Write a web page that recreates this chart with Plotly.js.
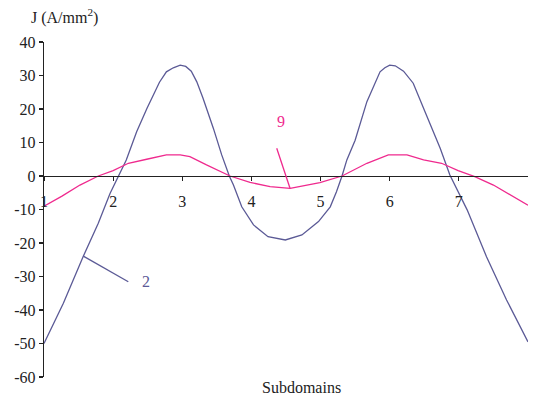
<!DOCTYPE html>
<html>
<head>
<meta charset="utf-8">
<script src="https://cdn.plot.ly/plotly-3.0.1.min.js"></script>
<style>
  html, body { margin: 0; padding: 0; background: #fff; }
  #chart { width: 533px; height: 399px; }
</style>
</head>
<body>
<div id="chart"></div>
<script>
// Current density J along the subdomains, curve 2
const x2 = [1, 1.28, 1.57, 1.785, 1.955, 2.08, 2.19, 2.34, 2.49, 2.67, 2.77, 2.87, 2.97, 3.05, 3.13, 3.21, 3.30, 3.45, 3.57, 3.68,
            3.74, 3.86, 4.03, 4.24, 4.49, 4.73, 4.97, 5.14, 5.23, 5.31, 5.38, 5.50, 5.67, 5.86, 5.93, 6.0, 6.08, 6.20, 6.34, 6.53,
            6.73, 6.87, 7.12, 7.40, 7.69, 8.0];
const j2 = [-50, -38, -23.9, -14.1, -5.2, 0, 4.8, 13.2, 20.2, 28.0, 31.1, 32.3, 33.1, 32.7, 31.3, 28.1, 23.2, 14.2, 6.3, 0,
            -2.7, -9.2, -14.6, -18.1, -19.1, -17.6, -13.6, -9.2, -4.7, 0, 4.8, 10.7, 22.2, 31.1, 32.3, 33.1, 32.9, 31.3, 27.7, 18.2,
            8.3, 0.3, -10.1, -24.1, -37, -49.5];

// Curve 9
const x9 = [1, 1.26, 1.52, 1.785, 2.0, 2.22, 2.485, 2.77, 2.97, 3.11, 3.35, 3.69, 3.98, 4.27, 4.56, 4.99, 5.31, 5.67, 5.98, 6.25,
            6.49, 6.75, 6.99, 7.23, 7.5, 7.79, 8.0];
const j9 = [-9, -6.0, -2.7, 0, 1.6, 3.8, 5.0, 6.3, 6.3, 5.8, 3.3, 0, -1.9, -3.2, -3.7, -2.0, 0, 3.8, 6.3, 6.3,
            4.8, 3.8, 1.6, -0.2, -2.7, -6.2, -8.7];

// Axis ticks: subdomain boundaries 1..8, labelled 1..7
const xLabelTicks = [1, 2, 3, 4, 5, 6, 7];
const xLabelText = ['1', '2', '3', '4', '5', '6', '7'];
const xAllTicks = [1, 2, 3, 4, 5, 6, 7, 8];
const yTicks = [40, 30, 20, 10, 0, -10, -20, -30, -40, -50, -60];
const yTickText = ['40', '30', '20', '10', '0', '-10', '-20', '-30', '-40', '-50', '-60'];

// Curve labels and their leader lines
const labels = [
  { text: '2', x: 2.48, y: -31.55, color: '#5b5a96', from: [1.569, -23.9], to: [2.219, -31.55] },
  { text: '9', x: 4.424, y: 16.2, color: '#ef2a8e', from: [4.558, -3.67], to: [4.366, 8.27] }
];

const BLUE = '#5b5a96';
const PINK = '#ef2a8e';
const AXIS = '#222';
const FONT = '"Liberation Serif", "Times New Roman", serif';

const traces = [
  { x: x2, y: j2, mode: 'lines', line: { color: BLUE, width: 1.3 }, hoverinfo: 'skip', showlegend: false },
  { x: x9, y: j9, mode: 'lines', line: { color: PINK, width: 1.3 }, hoverinfo: 'skip', showlegend: false }
];

const xRange = [1, 8];
const yRange = [-60, 40];
const zeroPos = (0 - yRange[0]) / (yRange[1] - yRange[0]);

// The x axis sits on J = 0; ticks cross the axis lines (drawn as an outside + inside pair)
const baseX = {
  range: xRange, showgrid: false, zeroline: false, showline: true, linecolor: AXIS, linewidth: 1.2,
  tickmode: 'array', ticklen: 4, tickwidth: 1.2, tickcolor: AXIS,
  anchor: 'free', position: zeroPos, fixedrange: true
};
const baseY = {
  range: yRange, showgrid: false, zeroline: false, showline: true, linecolor: AXIS, linewidth: 1.2,
  tickmode: 'array', tickvals: yTicks, ticklen: 4, tickwidth: 1.2, tickcolor: AXIS, fixedrange: true
};

const layout = {
  width: 533, height: 399,
  margin: { l: 44, r: 5, t: 42, b: 22 },
  paper_bgcolor: '#fff', plot_bgcolor: '#fff',
  font: { family: FONT, size: 16, color: AXIS },
  xaxis: Object.assign({}, baseX, {
    ticks: 'outside', tickvals: xLabelTicks, ticktext: xLabelText, ticklabelstandoff: 7,
    tickfont: { family: FONT, size: 16, color: AXIS }
  }),
  xaxis2: Object.assign({}, baseX, { ticks: 'inside', tickvals: xAllTicks, overlaying: 'x', showticklabels: false }),
  yaxis: Object.assign({}, baseY, { ticks: 'outside', ticktext: yTickText,
    tickfont: { family: FONT, size: 16, color: AXIS } }),
  yaxis2: Object.assign({}, baseY, { ticks: 'inside', overlaying: 'y', side: 'left', anchor: 'x', showticklabels: false }),
  shapes: labels.map(l => ({
    type: 'line', xref: 'x', yref: 'y',
    x0: l.from[0], y0: l.from[1], x1: l.to[0], y1: l.to[1],
    line: { color: l.color, width: 1.3 }
  })),
  annotations: [
    { xref: 'paper', yref: 'paper', x: -0.031, y: 1.0776, xanchor: 'left', yanchor: 'middle',
      text: 'J (A/mm<sup>2</sup>)', showarrow: false, font: { family: FONT, size: 16, color: AXIS } },
    { xref: 'paper', yref: 'paper', x: 0.533, y: -0.03, xanchor: 'center', yanchor: 'middle',
      text: 'Subdomains', showarrow: false, font: { family: FONT, size: 16, color: AXIS } }
  ].concat(labels.map(l => ({
    xref: 'x', yref: 'y', x: l.x, y: l.y, xanchor: 'center', yanchor: 'middle',
    text: l.text, showarrow: false, font: { family: FONT, size: 16, color: l.color }
  })))
};

Plotly.newPlot('chart', traces, layout, { displayModeBar: false, staticPlot: true });
</script>
</body>
</html>
